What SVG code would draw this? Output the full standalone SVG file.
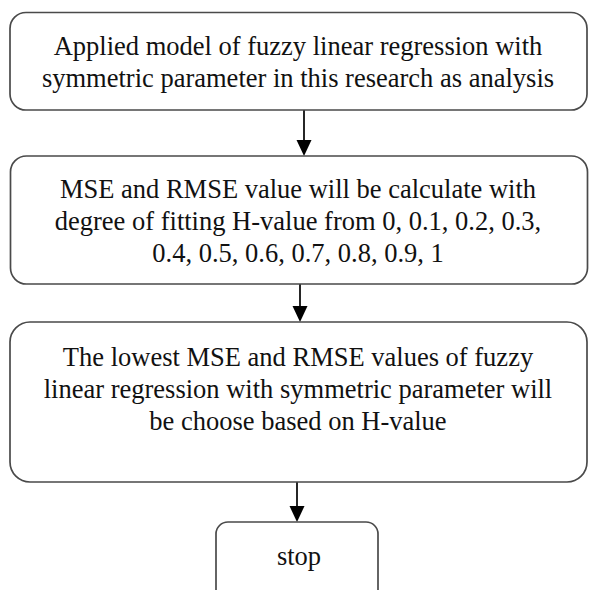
<svg xmlns="http://www.w3.org/2000/svg" width="590" height="590" viewBox="0 0 590 590">
<style>
.box{fill:#fff;stroke:#4a4a4a;stroke-width:1.7}
.t{font-family:"Liberation Serif","Times New Roman",serif;font-size:26.5px;fill:#111;text-anchor:middle}
.c{stroke:#000;stroke-width:1.7;fill:none}
.h{fill:#000}
</style>
<rect width="590" height="590" fill="#fff"/>
<g id="connectors">
<line class="c" x1="304" y1="110" x2="304" y2="141"/>
<path class="h" d="M296.5,140 L311.5,140 L304,156 Z"/>
<line class="c" x1="300" y1="284" x2="300" y2="307"/>
<path class="h" d="M292.5,306 L307.5,306 L300,322 Z"/>
<line class="c" x1="297" y1="482" x2="297" y2="507"/>
<path class="h" d="M289.5,506 L304.5,506 L297,522 Z"/>
</g>
<g id="node1">
<rect class="box" x="10" y="12.5" width="577" height="97.5" rx="16"/>
<text class="t" x="298" y="55">Applied model of fuzzy linear regression with</text>
<text class="t" x="298" y="87">symmetric parameter in this research as analysis</text>
</g>
<g id="node2">
<rect class="box" x="10.5" y="156" width="577" height="128" rx="16"/>
<text class="t" x="298" y="198">MSE and RMSE value will be calculate with</text>
<text class="t" x="298" y="230">degree of fitting H-value from 0, 0.1, 0.2, 0.3,</text>
<text class="t" x="298" y="262">0.4, 0.5, 0.6, 0.7, 0.8, 0.9, 1</text>
</g>
<g id="node3">
<rect class="box" x="10" y="322" width="577" height="160" rx="20"/>
<text class="t" x="298" y="366">The lowest MSE and RMSE values of fuzzy</text>
<text class="t" x="298" y="398">linear regression with symmetric parameter will</text>
<text class="t" x="298" y="430">be choose based on H-value</text>
</g>
<g id="node4">
<rect class="box" x="216" y="522" width="162" height="80" rx="12"/>
<text class="t" x="299" y="565">stop</text>
</g>
</svg>
